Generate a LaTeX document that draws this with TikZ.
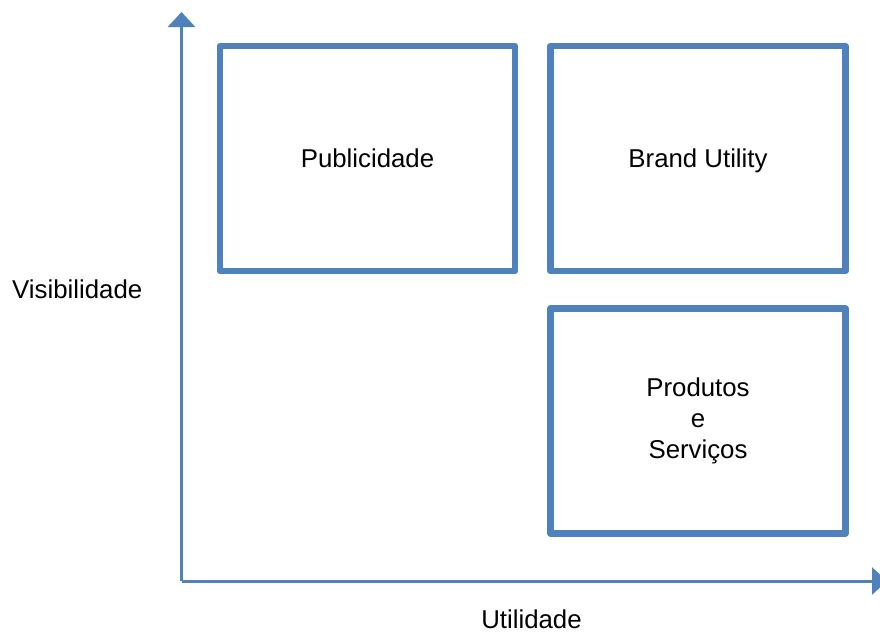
\documentclass[tikz,border=0pt]{standalone}
\usepackage{fontspec}
\setmainfont{Liberation Sans}
\usetikzlibrary{arrows.meta}
\definecolor{officeblue}{HTML}{4F81BD}
\begin{document}
\begin{tikzpicture}[x=1pt,y=-1pt,
  quadrant/.style={draw=officeblue, line width=6.5pt, line join=round,
    minimum width=295pt, minimum height=225pt, inner sep=0pt,
    align=center, font=\fontsize{25.8pt}{31pt}\selectfont},
  oneline/.style={text height=18.8pt, text depth=0pt},
  axis/.style={draw=officeblue, line width=3pt,
    -{Triangle[length=15pt,width=27pt]}},
  label/.style={font=\fontsize{25.8pt}{31pt}\selectfont, inner sep=0pt}]
\useasboundingbox (0,0) rectangle (880,635);

% axes
\coordinate (origin) at (181.5,581);
\coordinate (ytip) at (181.5,12);
\coordinate (xtip) at (887,581);
\draw[axis] (origin) -- (ytip);
\draw[axis] (origin) -- (xtip);

% quadrants
\node[quadrant, oneline] (pub) at (367.5,158.5) {Publicidade};
\node[quadrant, oneline] (brand) at (698,158.5) {Brand Utility};
\node[quadrant] (prod) at (698,421) {Produtos\\e\\Serviços};

% axis labels
\node[label, anchor=base west] (vis) at (12,298) {Visibilidade};
\node[label, anchor=base] (util) at (531.5,628) {Utilidade};
\end{tikzpicture}
\end{document}
